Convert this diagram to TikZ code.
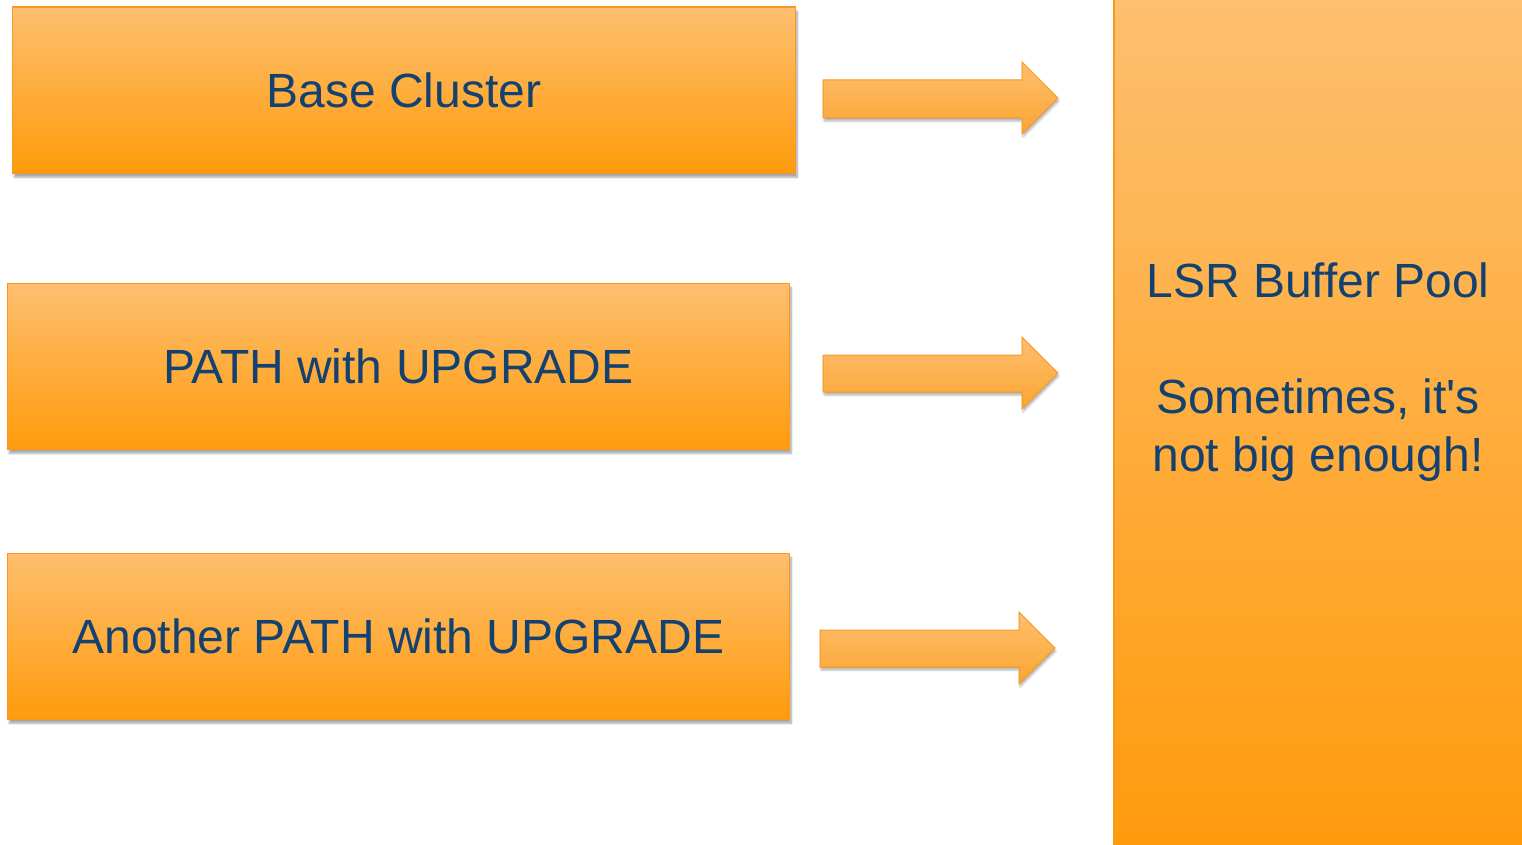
\documentclass[tikz,border=0pt]{standalone}
\usepackage{fontspec}
\setmainfont{Liberation Sans}
\usetikzlibrary{shadows.blur}
\definecolor{otop}{RGB}{254,191,111}
\definecolor{obot}{RGB}{255,155,12}
\definecolor{oedge}{RGB}{247,152,35}
\definecolor{txt}{RGB}{20,66,112}
\tikzset{
  obox/.style={draw=oedge, line width=1.5pt, top color=otop, bottom color=obot,
    blur shadow={shadow xshift=2pt, shadow yshift=-4pt, shadow blur steps=6, shadow opacity=35},
    inner sep=0pt, anchor=north west},
  otext/.style={text=txt, font=\fontsize{48}{58}\selectfont},
  oarrow/.style={draw=oedge, line width=1pt, top color=otop, bottom color={rgb,255:red,251;green,165;blue,50},
    blur shadow={shadow xshift=1pt, shadow yshift=-3pt, shadow blur steps=5, shadow opacity=30}},
}
\begin{document}
\begin{tikzpicture}[x=1pt,y=-1pt]
\useasboundingbox (0,0) rectangle (1522,845);
\node[obox, minimum width=783pt, minimum height=166pt] (b1) at (11.5,6.5) {};
\node[otext] (t1) at (b1.center) {Base Cluster};
\node[obox, minimum width=782pt, minimum height=166pt] (b2) at (6.5,282.5) {};
\node[otext] (t2) at (b2.center) {PATH with UPGRADE};
\node[obox, minimum width=782pt, minimum height=166pt] (b3) at (6.5,552.5) {};
\node[otext] (t3) at (b3.center) {Another PATH with UPGRADE};
\node[obox, minimum width=415pt, minimum height=852pt] (pool) at (1113,-3) {};
\node[otext, align=center, anchor=north] (pooltxt) at (1318,259)
  {LSR Buffer Pool\\[58pt]Sometimes, it\textquotesingle s\\not big enough!};
\draw[oarrow] (823,80) -- (1022,80) -- (1022,62) -- (1058,98) -- (1022,134) -- (1022,118) -- (823,118) -- cycle;
\draw[oarrow] (823,355) -- (1022,355) -- (1022,337) -- (1058,373) -- (1022,409) -- (1022,392) -- (823,392) -- cycle;
\draw[oarrow] (820,630) -- (1019,630) -- (1019,612) -- (1055,648) -- (1019,684) -- (1019,667) -- (820,667) -- cycle;
\end{tikzpicture}
\end{document}
